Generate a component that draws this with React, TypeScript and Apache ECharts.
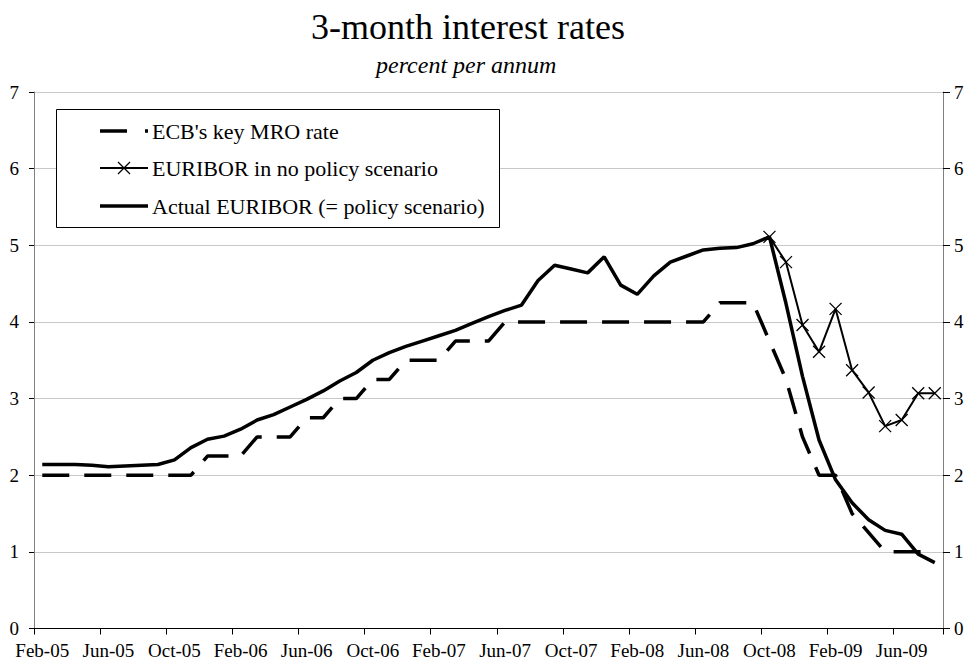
import React, { useEffect, useRef } from "react";
import * as echarts from "echarts";

const months = [
  "Feb-05","Mar-05","Apr-05","May-05","Jun-05","Jul-05","Aug-05","Sep-05","Oct-05","Nov-05","Dec-05",
  "Jan-06","Feb-06","Mar-06","Apr-06","May-06","Jun-06","Jul-06","Aug-06","Sep-06","Oct-06","Nov-06","Dec-06",
  "Jan-07","Feb-07","Mar-07","Apr-07","May-07","Jun-07","Jul-07","Aug-07","Sep-07","Oct-07","Nov-07","Dec-07",
  "Jan-08","Feb-08","Mar-08","Apr-08","May-08","Jun-08","Jul-08","Aug-08","Sep-08","Oct-08","Nov-08","Dec-08",
  "Jan-09","Feb-09","Mar-09","Apr-09","May-09","Jun-09","Jul-09","Aug-09",
];

const ecbRate = [
  2.0, 2.0, 2.0, 2.0, 2.0, 2.0, 2.0, 2.0, 2.0, 2.0, 2.25,
  2.25, 2.25, 2.5, 2.5, 2.5, 2.75, 2.75, 3.0, 3.0, 3.25, 3.25, 3.5,
  3.5, 3.5, 3.75, 3.75, 3.75, 4.0, 4.0, 4.0, 4.0, 4.0, 4.0, 4.0,
  4.0, 4.0, 4.0, 4.0, 4.0, 4.0, 4.25, 4.25, 4.25, 3.75, 3.25, 2.5,
  2.0, 2.0, 1.5, 1.25, 1.0, 1.0, 1.0, 1.0,
];

const actualEuribor = [
  2.14, 2.14, 2.14, 2.13, 2.11, 2.12, 2.13, 2.14, 2.2, 2.36, 2.47,
  2.51, 2.6, 2.72, 2.79, 2.89, 2.99, 3.1, 3.23, 3.34, 3.5, 3.6, 3.68,
  3.75, 3.82, 3.89, 3.98, 4.07, 4.15, 4.22, 4.54, 4.74, 4.69, 4.64, 4.85,
  4.48, 4.36, 4.6, 4.78, 4.86, 4.94, 4.96, 4.97, 5.02, 5.11, 4.24, 3.29,
  2.46, 1.94, 1.64, 1.42, 1.28, 1.23, 0.97, 0.86,
];

const noPolicyEuribor = [
  null, null, null, null, null, null, null, null, null, null, null,
  null, null, null, null, null, null, null, null, null, null, null, null,
  null, null, null, null, null, null, null, null, null, null, null, null,
  null, null, null, null, null, null, null, null, null, 5.11, 4.78, 3.96,
  3.61, 4.17, 3.37, 3.08, 2.64, 2.72, 3.07, 3.07,
];

const seriesNames = [
  "ECB's key MRO rate",
  "EURIBOR in no policy scenario",
  "Actual EURIBOR (= policy scenario)",
];

const yTicks = [0, 1, 2, 3, 4, 5, 6, 7];

const FONT = "Liberation Serif";
const CROSS = "path://M0,0L10,10M10,0L0,10";

export default function App() {
  const ref = useRef<HTMLDivElement>(null);

  useEffect(() => {
    if (!ref.current) return;
    const chart = echarts.init(ref.current, undefined, { renderer: "svg" });

    const yAxisBase = (pos: "left" | "right") => ({
      type: "value",
      position: pos,
      min: yTicks[0],
      max: yTicks[yTicks.length - 1],
      interval: 1,
      axisLine: { show: true, lineStyle: { color: "#808080", width: 1 } },
      axisTick: {
        show: true,
        inside: false,
        length: pos === "left" ? 5 : 7,
        lineStyle: { color: "#000", width: 1 },
      },
      axisLabel: {
        color: "#000",
        fontFamily: FONT,
        fontSize: 19,
        margin: pos === "left" ? 15 : 11,
      },
      splitLine: {
        show: pos === "left",
        lineStyle: { color: "#c8c8c8", width: 1 },
      },
    });

    const lx = 100;
    const lw = 48;
    const rows = [131, 168, 206];

    chart.setOption({
      animation: false,
      backgroundColor: "#fff",
      title: [
        {
          text: "3-month interest rates",
          left: 306,
          top: 4,
          textStyle: { fontFamily: FONT, fontSize: 36, fontWeight: "normal", color: "#000" },
        },
        {
          text: "percent per annum",
          left: 371,
          top: 48,
          textStyle: { fontFamily: FONT, fontSize: 24, fontStyle: "italic", fontWeight: "normal", color: "#000" },
        },
      ],
      grid: { left: 34, right: 24, top: 92, bottom: 41.5, containLabel: false },
      xAxis: {
        type: "category",
        data: months,
        boundaryGap: true,
        axisLine: { show: true, lineStyle: { color: "#000", width: 1 } },
        axisTick: { show: true, interval: 3, length: 6, lineStyle: { color: "#000" } },
        axisLabel: {
          interval: 3,
          color: "#000",
          fontFamily: FONT,
          fontSize: 19,
          margin: 12,
        },
        splitLine: { show: false },
      },
      yAxis: [yAxisBase("left"), yAxisBase("right")],
      series: [
        {
          name: seriesNames[0],
          type: "line",
          data: ecbRate,
          symbol: "none",
          lineStyle: { color: "#000", width: 3.5, type: [27, 15] },
          z: 2,
        },
        {
          name: seriesNames[1],
          type: "line",
          data: noPolicyEuribor,
          symbol: CROSS,
          symbolSize: 12,
          showSymbol: true,
          showAllSymbol: true,
          itemStyle: { color: "#000", borderColor: "#000", borderWidth: 1.3 },
          lineStyle: { color: "#000", width: 2 },
          z: 3,
        },
        {
          name: seriesNames[2],
          type: "line",
          data: actualEuribor,
          symbol: "none",
          lineStyle: { color: "#000", width: 3.5 },
          z: 4,
        },
      ],
      graphic: [
        {
          type: "rect",
          shape: { x: 56.5, y: 109.5, width: 443, height: 118 },
          style: { fill: "#fff", stroke: "#000", lineWidth: 1 },
          z: 10,
        },
        { type: "line", shape: { x1: lx, y1: rows[0], x2: lx + 27, y2: rows[0] }, style: { stroke: "#000", lineWidth: 3.5 }, z: 11 },
        { type: "line", shape: { x1: lx + 45, y1: rows[0], x2: lx + lw, y2: rows[0] }, style: { stroke: "#000", lineWidth: 3.5 }, z: 11 },
        { type: "line", shape: { x1: lx, y1: rows[1], x2: lx + lw, y2: rows[1] }, style: { stroke: "#000", lineWidth: 2 }, z: 11 },
        { type: "line", shape: { x1: lx + 18, y1: rows[1] - 6, x2: lx + 30, y2: rows[1] + 6 }, style: { stroke: "#000", lineWidth: 1.3 }, z: 11 },
        { type: "line", shape: { x1: lx + 30, y1: rows[1] - 6, x2: lx + 18, y2: rows[1] + 6 }, style: { stroke: "#000", lineWidth: 1.3 }, z: 11 },
        { type: "line", shape: { x1: lx, y1: rows[2], x2: lx + lw, y2: rows[2] }, style: { stroke: "#000", lineWidth: 3.5 }, z: 11 },
        ...seriesNames.map((n, i) => ({
          type: "text",
          x: 152,
          y: rows[i],
          style: {
            text: n,
            fill: "#000",
            fontFamily: FONT,
            fontSize: 22,
            verticalAlign: "middle",
            align: "left",
          },
          z: 11,
        })),
      ],
    });

    return () => chart.dispose();
  }, []);

  return <div ref={ref} style={{ width: 967, height: 670, position: "fixed", left: 0, top: 0 }} />;
}
